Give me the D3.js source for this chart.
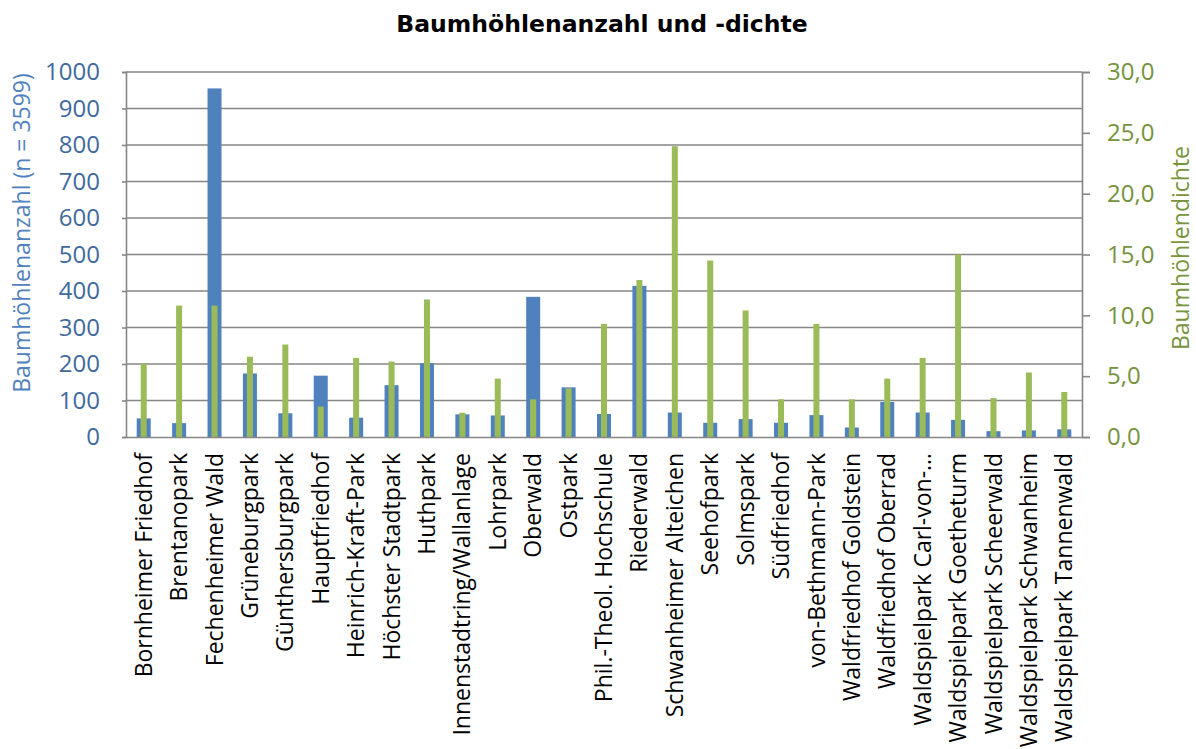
<!DOCTYPE html>
<html>
<head>
    <meta charset="utf-8">
    <title>Baumhöhlenanzahl und -dichte</title>
    <style>
        body { margin: 0; background: #fff; }
        text { font-family: "Open Sans", "Noto Sans", sans-serif; }
    </style>
    <script src="https://d3js.org/d3.v7.min.js"></script>
</head>
<body>
<script>
    // Parks / Friedhöfe
    let categories = [
        "Bornheimer Friedhof", "Brentanopark", "Fechenheimer Wald", "Grüneburgpark",
        "Günthersburgpark", "Hauptfriedhof", "Heinrich-Kraft-Park", "Höchster Stadtpark",
        "Huthpark", "Innenstadtring/Wallanlage", "Lohrpark", "Oberwald", "Ostpark",
        "Phil.-Theol. Hochschule", "Riederwald", "Schwanheimer Alteichen", "Seehofpark",
        "Solmspark", "Südfriedhof", "von-Bethmann-Park", "Waldfriedhof Goldstein",
        "Waldfriedhof Oberrad", "Waldspielpark Carl-von-…", "Waldspielpark Goetheturm",
        "Waldspielpark Scheerwald", "Waldspielpark Schwanheim", "Waldspielpark Tannenwald"
    ];
    // Baumhöhlenanzahl (linke Achse)
    let anzahl = [51, 38, 955, 174, 65, 168, 53, 142, 202, 62, 59, 384, 136, 63, 414,
        67, 39, 49, 39, 60, 26, 96, 67, 47, 16, 18, 21];
    // Baumhöhlendichte (rechte Achse)
    let dichte = [6.0, 10.8, 10.8, 6.6, 7.6, 2.5, 6.5, 6.2, 11.3, 2.0, 4.8, 3.1, 4.0,
        9.3, 12.9, 23.9, 14.5, 10.4, 3.1, 9.3, 3.1, 4.8, 6.5, 15.0, 3.2, 5.3, 3.7];
    let leftTicks = [0, 100, 200, 300, 400, 500, 600, 700, 800, 900, 1000];
    let rightTicks = [0, 5, 10, 15, 20, 25, 30];

    let width = 1196;
    let height = 749;
    let plotLeft = 126, plotRight = 1082, plotTop = 72, plotBottom = 437;

    let svg = d3.select("body").append("svg")
        .attr("width", width)
        .attr("height", height);

    let x = d3.scaleBand().domain(categories).range([plotLeft, plotRight]);
    let yL = d3.scaleLinear().domain([0, 1000]).range([plotBottom, plotTop]);
    let yR = d3.scaleLinear().domain([0, 30]).range([plotBottom, plotTop]);

    // gridlines
    svg.append("g")
        .selectAll("line")
        .data(leftTicks.slice(1))
        .enter()
        .append("line")
        .attr("x1", plotLeft).attr("x2", plotRight)
        .attr("y1", d => yL(d)).attr("y2", d => yL(d))
        .style("stroke", "#868686")
        .style("stroke-width", 1.6);

    // blue bars
    svg.append("g")
        .selectAll("rect")
        .data(anzahl)
        .enter()
        .append("rect")
        .attr("x", (d, i) => x(categories[i]) + x.bandwidth() / 2 - 7)
        .attr("width", 14)
        .attr("y", d => yL(d))
        .attr("height", d => plotBottom - yL(d))
        .style("fill", "#4F81BD");

    // green bars
    svg.append("g")
        .selectAll("rect")
        .data(dichte)
        .enter()
        .append("rect")
        .attr("x", (d, i) => x(categories[i]) + x.bandwidth() / 2 - 3)
        .attr("width", 6)
        .attr("y", d => yR(d))
        .attr("height", d => plotBottom - yR(d))
        .style("fill", "#9BBB59");

    // left axis
    let axL = svg.append("g")
        .attr("transform", `translate(${plotLeft},0)`)
        .call(d3.axisLeft(yL).tickValues(leftTicks).tickSize(4).tickPadding(22).tickFormat(d3.format("d")));
    axL.select(".domain").style("stroke", "#868686").style("stroke-width", 1.6);
    axL.selectAll(".tick line").style("stroke", "#868686").style("stroke-width", 1.6);
    axL.selectAll("text")
        .style("font-size", "24px")
        .style("font-family", "'Open Sans', sans-serif")
        .style("fill", "#3F6A9E");

    // right axis
    let axR = svg.append("g")
        .attr("transform", `translate(${plotRight},0)`)
        .call(d3.axisRight(yR).tickValues(rightTicks).tickSize(8).tickPadding(17)
            .tickFormat(d => d3.format(".1f")(d).replace(".", ",")));
    axR.select(".domain").style("stroke", "#868686").style("stroke-width", 1.6);
    axR.selectAll(".tick line").style("stroke", "#868686").style("stroke-width", 1.6);
    axR.selectAll("text")
        .style("font-size", "24px")
        .style("font-family", "'Open Sans', sans-serif")
        .style("fill", "#76923C");

    // bottom axis
    let axB = svg.append("g")
        .attr("transform", `translate(0,${plotBottom})`)
        .call(d3.axisBottom(x).tickSize(0).tickPadding(0));
    axB.select(".domain").style("stroke", "#868686").style("stroke-width", 1.6);
    axB.selectAll("text")
        .attr("transform", "rotate(-90)")
        .attr("x", -16)
        .attr("y", 0)
        .attr("dy", "0.35em")
        .style("text-anchor", "end")
        .style("font-size", "23px")
        .style("font-family", "'Open Sans', sans-serif")
        .style("fill", "#000");

    // titles
    svg.append("text")
        .attr("x", 602).attr("y", 32)
        .attr("text-anchor", "middle")
        .style("font-family", "'DejaVu Sans', sans-serif")
        .style("font-weight", "bold")
        .style("font-size", "23.5px")
        .text("Baumhöhlenanzahl und -dichte");

    svg.append("text")
        .attr("transform", `translate(30,233) rotate(-90)`)
        .attr("text-anchor", "middle")
        .style("font-size", "23px")
        .style("fill", "#4F81BD")
        .text("Baumhöhlenanzahl (n = 3599)");

    svg.append("text")
        .attr("transform", `translate(1189,248) rotate(-90)`)
        .attr("text-anchor", "middle")
        .style("font-size", "23px")
        .style("fill", "#77933C")
        .text("Baumhöhlendichte");
</script>
</body>
</html>
